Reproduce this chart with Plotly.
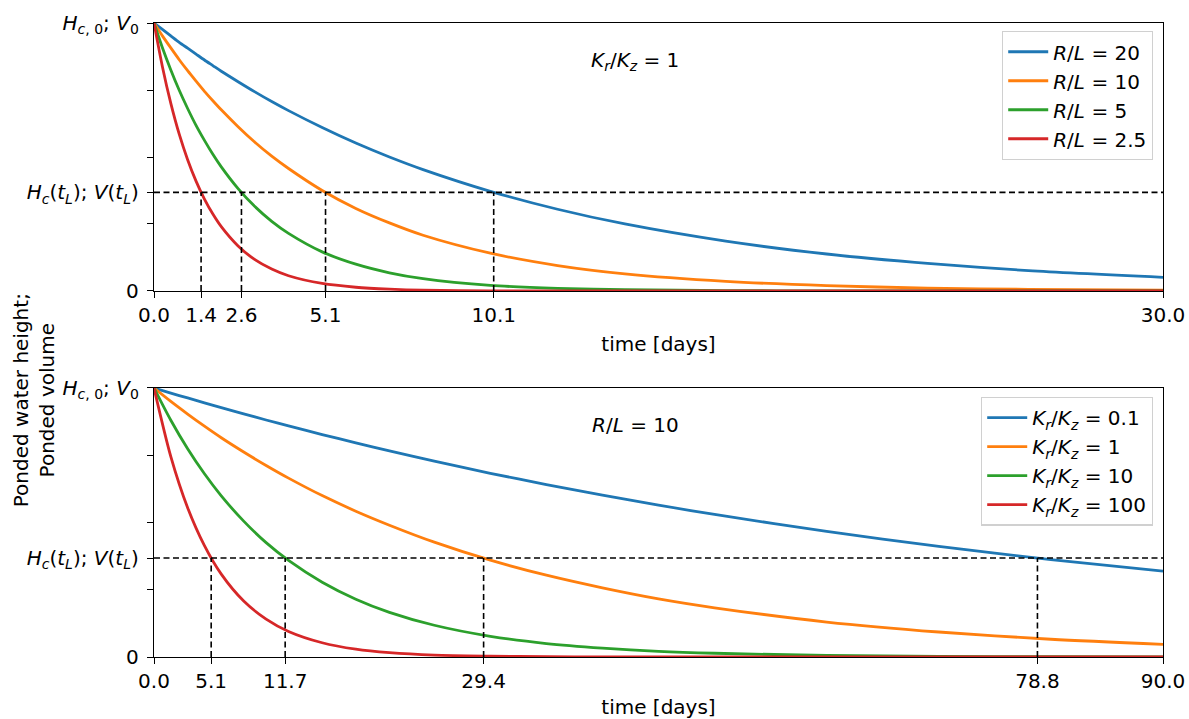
import plotly.graph_objects as go

# ---------------- data ----------------
t_top = [0, 0.25, 0.5, 0.75, 1, 1.25, 1.5, 1.75, 2, 2.5, 3, 3.5, 4, 5, 6, 7, 8,
         10, 12, 14, 17, 20, 23, 26, 30]
top_labels = ["<i>R</i>/<i>L</i> = 20", "<i>R</i>/<i>L</i> = 10",
              "<i>R</i>/<i>L</i> = 5", "<i>R</i>/<i>L</i> = 2.5"]
top_rl20 = [1.0, 0.976, 0.952, 0.928, 0.906, 0.884, 0.862, 0.841, 0.820, 0.781, 0.743,
            0.707, 0.673, 0.610, 0.552, 0.500, 0.453,
            0.372, 0.305, 0.250, 0.186, 0.138, 0.103, 0.076, 0.051]
top_rl10 = [1.0, 0.952, 0.907, 0.863, 0.822, 0.783, 0.745, 0.710, 0.676, 0.613, 0.555,
            0.503, 0.457, 0.375, 0.308, 0.254, 0.208,
            0.141, 0.095, 0.064, 0.036, 0.020, 0.011, 0.006, 0.003]
top_rl5 = [1.0, 0.908, 0.825, 0.749, 0.681, 0.618, 0.562, 0.510, 0.463, 0.382, 0.315,
           0.260, 0.215, 0.146, 0.100, 0.068, 0.046,
           0.021, 0.010, 0.005, 0.0014, 0.0005, 0.0001, 0.0, 0.0]
top_rl25 = [1.0, 0.837, 0.700, 0.585, 0.490, 0.410, 0.343, 0.287, 0.240, 0.168, 0.117,
            0.082, 0.057, 0.028, 0.014, 0.007, 0.003,
            0.0008, 0.0002, 0.0, 0.0, 0.0, 0.0, 0.0, 0.0]
top_tL = [1.4, 2.6, 5.1, 10.1]
top_xmax = 30.0

t_bot = [0, 1.5, 3, 4.5, 6, 8, 10, 12, 15, 18, 21, 25, 30, 35, 40, 45, 50, 60, 70, 80, 90]
bot_labels = ["<i>K<sub>r</sub></i>/<i>K<sub>z</sub></i> = 0.1",
              "<i>K<sub>r</sub></i>/<i>K<sub>z</sub></i> = 1",
              "<i>K<sub>r</sub></i>/<i>K<sub>z</sub></i> = 10",
              "<i>K<sub>r</sub></i>/<i>K<sub>z</sub></i> = 100"]
bot_k01 = [1.0, 0.981, 0.963, 0.945, 0.927, 0.904, 0.881, 0.859, 0.827, 0.796, 0.766,
           0.728, 0.683, 0.641, 0.602, 0.565, 0.530, 0.467, 0.411, 0.362, 0.319]
bot_k1 = [1.0, 0.950, 0.903, 0.858, 0.815, 0.762, 0.712, 0.665, 0.600, 0.542, 0.490,
          0.427, 0.360, 0.304, 0.257, 0.216, 0.183, 0.130, 0.093, 0.066, 0.047]
bot_k10 = [1.0, 0.880, 0.774, 0.681, 0.599, 0.505, 0.425, 0.359, 0.278, 0.215, 0.166,
           0.118, 0.077, 0.050, 0.033, 0.021, 0.014, 0.006, 0.0025, 0.0011, 0.0005]
bot_k100 = [1.0, 0.745, 0.555, 0.414, 0.308, 0.208, 0.141, 0.095, 0.053, 0.029, 0.016,
            0.007, 0.003, 0.001, 0.0004, 0.0001, 0.0, 0.0, 0.0, 0.0, 0.0]
bot_tL = [5.1, 11.7, 29.4, 78.8]
bot_xmax = 90.0

h_tL = 0.368  # H_c(t_L) level
colors = ["#1f77b4", "#ff7f0e", "#2ca02c", "#d62728"]

# ---------------- figure ----------------
fig = go.Figure()
FONT = "DejaVu Sans"
FS = 20

for i, (ys, lab, c) in enumerate(zip([top_rl20, top_rl10, top_rl5, top_rl25], top_labels, colors)):
    fig.add_trace(go.Scatter(x=t_top, y=ys, mode="lines", name=lab, legendgroup=f"a{i}",
                             line=dict(color=c, width=2.8, shape="spline", smoothing=0.8),
                             xaxis="x", yaxis="y", legend="legend"))
for i, (ys, lab, c) in enumerate(zip([bot_k01, bot_k1, bot_k10, bot_k100], bot_labels, colors)):
    fig.add_trace(go.Scatter(x=t_bot, y=ys, mode="lines", name=lab, legendgroup=f"b{i}",
                             line=dict(color=c, width=2.8, shape="spline", smoothing=0.8),
                             xaxis="x2", yaxis="y2", legend="legend2"))

dash = dict(color="black", width=1.6, dash="6px,3.5px")
for xr, yr, tls, xmax in [("x", "y", top_tL, top_xmax), ("x2", "y2", bot_tL, bot_xmax)]:
    fig.add_shape(type="line", xref=xr, yref=yr, x0=0, x1=xmax, y0=h_tL, y1=h_tL, line=dash)
    for tl in tls:
        fig.add_shape(type="line", xref=xr, yref=yr, x0=tl, x1=tl, y0=0, y1=h_tL, line=dash)

ytickvals = [0, 0.25, h_tL, 0.5, 0.75, 1.0]
yticktext = ["0", "", "<i>H<sub>c</sub></i>(<i>t<sub>L</sub></i>); <i>V</i>(<i>t<sub>L</sub></i>)",
             "", "", "<i>H</i><sub><i>c</i>, 0</sub>; <i>V</i><sub>0</sub>"]

axis_common = dict(showline=True, linecolor="black", linewidth=1.4, mirror=True,
                   ticks="outside", ticklen=6, tickwidth=1.4, tickcolor="black",
                   showgrid=False, zeroline=False, ticklabeloverflow="allow", automargin=False,
                   tickfont=dict(family=FONT, size=FS, color="black"))

top_ticks = [0.0] + top_tL + [top_xmax]
bot_ticks = [0.0] + bot_tL + [bot_xmax]

legend_common = dict(xanchor="right", yanchor="top", xref="paper", yref="paper",
                     bgcolor="rgba(255,255,255,0.8)", bordercolor="#d0d0d0", borderwidth=1.3,
                     font=dict(family=FONT, size=FS), itemwidth=40, tracegroupgap=0)

fig.update_layout(
    width=1189, height=719, autosize=False,
    paper_bgcolor="white", plot_bgcolor="white",
    margin=dict(l=154, r=26, t=23, b=62),
    font=dict(family=FONT, size=FS, color="black"),
    xaxis=dict(axis_common, domain=[0, 1], anchor="y", range=[0, top_xmax],
               tickvals=top_ticks, ticktext=[f"{v:.1f}" for v in top_ticks],
               title=dict(text="time [days]", font=dict(family=FONT, size=FS), standoff=10)),
    yaxis=dict(axis_common, domain=[0.5773, 1.0], anchor="x", range=[0, 1],
               tickvals=ytickvals, ticktext=yticktext, ticklabelstandoff=4),
    xaxis2=dict(axis_common, domain=[0, 1], anchor="y2", range=[0, bot_xmax],
                tickvals=bot_ticks, ticktext=[f"{v:.1f}" for v in bot_ticks],
                title=dict(text="time [days]", font=dict(family=FONT, size=FS), standoff=10)),
    yaxis2=dict(axis_common, domain=[0, 0.4243], anchor="x2", range=[0, 1],
                tickvals=ytickvals, ticktext=yticktext, ticklabelstandoff=4),
    legend=dict(legend_common, x=0.990, y=0.9875),
    legend2=dict(legend_common, x=0.990, y=0.4105),
    showlegend=True,
)

fig.add_annotation(text="<i>K<sub>r</sub></i>/<i>K<sub>z</sub></i> = 1",
                   xref="x domain", yref="y domain", x=0.477, y=0.914,
                   showarrow=False, font=dict(family=FONT, size=FS))
fig.add_annotation(text="<i>R</i>/<i>L</i> = 10",
                   xref="x2 domain", yref="y2 domain", x=0.477, y=0.914,
                   showarrow=False, font=dict(family=FONT, size=FS))
fig.add_annotation(text="Ponded water height;<br>Ponded volume", textangle=-90,
                   xref="paper", yref="paper", x=-0.1189, y=0.405, xanchor="center", yanchor="middle",
                   showarrow=False, font=dict(family=FONT, size=FS))

fig.write_html("out.html",
               config={"responsive": False, "displayModeBar": False},
               post_script="document.body.style.margin='0';document.body.style.overflow='hidden';")
